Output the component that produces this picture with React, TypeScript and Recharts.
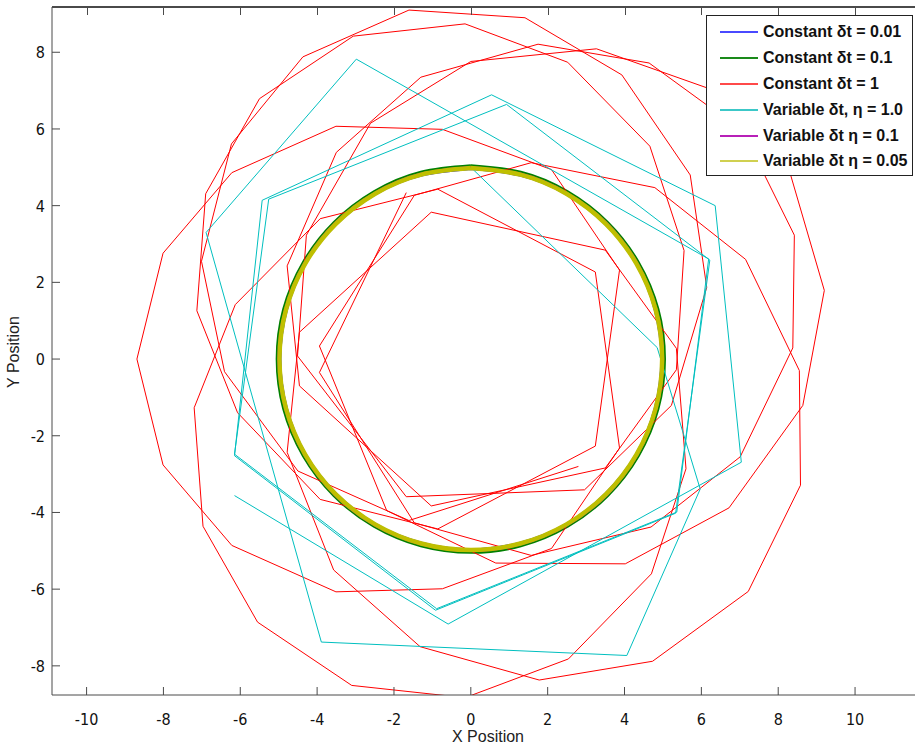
import React from "react";
import { LineChart, Line, XAxis, YAxis } from "recharts";

type Pt = [number, number];

const X_TICKS = [-10, -8, -6, -4, -2, 0, 2, 4, 6, 8, 10];
const Y_TICKS = [-8, -6, -4, -2, 0, 2, 4, 6, 8];

// constant dt = 0.01
const constDt001: Pt[] = [
  [0, 4.95], [1.28, 4.78], [2.48, 4.29], [3.5, 3.5], [4.29, 2.48], [4.78, 1.28],
  [4.95, 0], [4.78, -1.28], [4.29, -2.48], [3.5, -3.5], [2.48, -4.29], [1.28, -4.78],
  [0, -4.95], [-1.28, -4.78], [-2.48, -4.29], [-3.5, -3.5], [-4.29, -2.48], [-4.78, -1.28],
  [-4.95, 0], [-4.78, 1.28], [-4.29, 2.48], [-3.5, 3.5], [-2.48, 4.29], [-1.28, 4.78], [0, 4.95],
];

// constant dt = 0.1
const constDt01: Pt[] = [
  [0, 5.04], [1.3, 4.87], [2.52, 4.36], [3.56, 3.56], [4.36, 2.52], [4.87, 1.3],
  [5.04, 0], [4.87, -1.3], [4.36, -2.52], [3.56, -3.56], [2.52, -4.36], [1.3, -4.87],
  [0, -5.04], [-1.3, -4.87], [-2.52, -4.36], [-3.56, -3.56], [-4.36, -2.52], [-4.87, -1.3],
  [-5.04, 0], [-4.87, 1.3], [-4.36, 2.52], [-3.56, 3.56], [-2.52, 4.36], [-1.3, 4.87], [0, 5.04],
];

// constant dt = 1 (precessing orbit, read vertex by vertex)
const constDt1: Pt[] = [
  [2.8, -2.8], [-1.61, -4.21], [-4.5, -2.92], [-6.41, -0.33], [-7.01, 2.55], [-6.23, 5.61],
  [-4.37, 7.88], [-1.61, 9.1], [1.41, 8.9], [3.93, 7.41], [5.71, 4.8], [6.14, 1.87],
  [5.22, -1.21], [2.96, -3.41], [-1.68, -3.59], [-4.51, 0.08], [-4.28, 3.23], [-2.61, 6.15],
  [0, 7.76], [3.27, 8.09], [6.15, 7.07], [8.32, 4.81], [9.2, 1.79], [8.64, -1.21],
  [6.72, -3.88], [4.02, -5.34], [0.65, -5.32], [-2.19, -3.95], [-3.94, 0.34], [-1.47, 4.27],
  [1.57, 5.12], [4.79, 4.47], [7.15, 2.6], [8.55, -0.3], [8.58, -3.29], [7.22, -6.06],
  [4.73, -7.88], [1.78, -8.37], [-1.32, -7.5], [-3.57, -5.5], [-4.78, -2.43], [-4.46, 0.7],
  [-1.03, 3.83], [3.5, 2.84], [5.35, 0.28], [5.6, -2.86], [4.7, -5.6], [2.54, -7.82],
  [-0.15, -8.83], [-3.1, -8.51], [-5.55, -6.86], [-6.97, -4.36], [-7.2, -1.27], [-6.13, 1.42],
  [-3.92, 3.66], [-0.86, 4.43], [3.24, 2.27], [3.87, -2.32], [2.1, -4.94], [-0.74, -5.99],
  [-3.51, -6.07], [-6.22, -4.86], [-8.01, -2.76], [-8.69, 0], [-8.01, 2.76], [-6.22, 4.86],
  [-3.51, 6.07], [-0.74, 5.99], [2.1, 4.94], [3.87, 2.32], [3.24, -2.27], [-0.86, -4.43],
  [-3.92, -3.66], [-6.07, -1.4], [-7.13, 1.26], [-6.9, 4.31], [-5.5, 6.79], [-3.06, 8.42],
  [-0.15, 8.74], [2.52, 7.74], [4.66, 5.55], [5.55, 2.83], [5.35, -0.28], [3.5, -2.84],
  [-1.03, -3.83], [-4.46, -0.7], [-4.78, 2.43], [-3.5, 5.39], [-1.3, 7.35], [1.75, 8.21],
  [4.64, 7.72], [7.08, 5.94], [8.42, 3.23], [8.38, 0.29], [7.01, -2.55], [4.69, -4.38],
  [1.57, -5.12], [-1.47, -4.27], [-3.94, -0.35], [-1.68, 4.34],
];

// variable dt, eta = 1.0
const varEta1: Pt[] = [
  [0, 5], [4.85, 0.3], [5.97, -3.39], [4.06, -7.73], [-3.89, -7.38], [-6.89, 3.3],
  [-2.98, 7.82], [6.19, 2.61], [5.36, -3.99], [-0.89, -6.51], [-6.15, -2.48], [-5.26, 4.17],
  [0.93, 6.64], [6.22, 2.58], [5.33, -4.02], [-0.92, -6.55], [-6.15, -2.52], [-5.43, 4.14],
  [0.54, 6.89], [6.36, 4.0], [7.04, -2.69], [-0.59, -6.91], [-6.15, -3.56],
];

// variable dt, eta = 0.1
const varEta01: Pt[] = [
  [0, 5], [1.29, 4.83], [2.5, 4.33], [3.54, 3.54], [4.33, 2.5], [4.83, 1.29],
  [5, 0], [4.83, -1.29], [4.33, -2.5], [3.54, -3.54], [2.5, -4.33], [1.29, -4.83],
  [0, -5], [-1.29, -4.83], [-2.5, -4.33], [-3.54, -3.54], [-4.33, -2.5], [-4.83, -1.29],
  [-5, 0], [-4.83, 1.29], [-4.33, 2.5], [-3.54, 3.54], [-2.5, 4.33], [-1.29, 4.83], [0, 5],
];

// variable dt, eta = 0.05
const varEta005: Pt[] = [
  [0, 4.98], [1.29, 4.81], [2.49, 4.31], [3.52, 3.52], [4.31, 2.49], [4.81, 1.29],
  [4.98, 0], [4.81, -1.29], [4.31, -2.49], [3.52, -3.52], [2.49, -4.31], [1.29, -4.81],
  [0, -4.98], [-1.29, -4.81], [-2.49, -4.31], [-3.52, -3.52], [-4.31, -2.49], [-4.81, -1.29],
  [-4.98, 0], [-4.81, 1.29], [-4.31, 2.49], [-3.52, 3.52], [-2.49, 4.31], [-1.29, 4.81], [0, 4.98],
];

const rows = (pts: Pt[]) => pts.map(([x, y]) => ({ x, y }));

const SERIES = [
  { name: "Constant \u03b4t = 0.01", pts: constDt001, color: "#0000ff", width: 1.5, curve: "natural", legend: "#4a4aff" },
  { name: "Constant \u03b4t = 0.1", pts: constDt01, color: "#008000", width: 3, curve: "natural", legend: "#1a8a1a" },
  { name: "Constant \u03b4t = 1", pts: constDt1, color: "#ff0000", width: 1, curve: "linear", legend: "#ff4a4a" },
  { name: "Variable \u03b4t, \u03b7 = 1.0", pts: varEta1, color: "#00bfbf", width: 1, curve: "linear", legend: "#3cc8c8" },
  { name: "Variable \u03b4t \u03b7 = 0.1", pts: varEta01, color: "#bf00bf", width: 2.5, curve: "natural", legend: "#b820b8" },
  { name: "Variable \u03b4t \u03b7 = 0.05", pts: varEta005, color: "#bfbf00", width: 4.5, curve: "natural", legend: "#d0d050" },
];

const W = 915;
const H = 746;
const PLOT_LEFT = 52;
const PLOT_TOP = 7;
const X_DOMAIN: [number, number] = [-10.9, 11.56];
const Y_DOMAIN: [number, number] = [-8.76, 9.18];
const AXIS = "#4a4a4a";
const TICK_FONT = "'Liberation Sans Narrow', 'DejaVu Sans Condensed', 'Liberation Sans', sans-serif";

// top frame tick position (same linear mapping as the bottom axis)
const topTickLeft = (t: number) =>
  PLOT_LEFT + ((t - X_DOMAIN[0]) / (X_DOMAIN[1] - X_DOMAIN[0])) * (W - PLOT_LEFT);

const BottomTick = (p: any) => (
  <g>
    <line x1={p.x} x2={p.x} y1={p.y} y2={p.y - 8} stroke={AXIS} />
    <text x={p.x} y={p.y + 30} textAnchor="middle" fontSize={16} fontFamily={TICK_FONT} fill="#111">
      {p.payload.value}
    </text>
  </g>
);

const LeftTick = (p: any) => (
  <g>
    <line x1={p.x} x2={p.x + 8} y1={p.y} y2={p.y} stroke={AXIS} />
    <text x={p.x - 7} y={p.y + 6} textAnchor="end" fontSize={16} fontFamily={TICK_FONT} fill="#111">
      {p.payload.value}
    </text>
  </g>
);

export default function App() {
  return (
    <div style={{ position: "absolute", left: 0, top: 0, width: W, height: H, background: "#fff", overflow: "hidden" }}>
      <LineChart width={W} height={H} margin={{ top: PLOT_TOP, right: 0, bottom: 0, left: 0 }}>
        <XAxis
          type="number"
          dataKey="x"
          domain={X_DOMAIN}
          allowDataOverflow
          ticks={X_TICKS}
          interval={0}
          height={51}
          stroke={AXIS}
          tickLine={false}
          tickSize={0}
          tickMargin={0}
          tick={<BottomTick />}
        />
        <YAxis
          type="number"
          domain={Y_DOMAIN}
          allowDataOverflow
          ticks={Y_TICKS}
          interval={0}
          width={PLOT_LEFT}
          stroke={AXIS}
          tickLine={false}
          tickSize={0}
          tickMargin={0}
          tick={<LeftTick />}
        />
        {SERIES.map((s) => (
          <Line
            key={s.name}
            data={rows(s.pts)}
            dataKey="y"
            name={s.name}
            type={s.curve as any}
            stroke={s.color}
            strokeWidth={s.width}
            dot={false}
            activeDot={false}
            isAnimationActive={false}
          />
        ))}
      </LineChart>

      {/* top frame line with inward ticks */}
      <div
        style={{
          position: "absolute",
          zIndex: 5,
          left: PLOT_LEFT,
          top: PLOT_TOP - 1,
          width: W - PLOT_LEFT,
          height: 0,
          borderTop: `2px solid ${AXIS}`,
        }}
      />
      {X_TICKS.map((t) => (
        <div
          key={t}
          style={{
            position: "absolute",
            zIndex: 5,
            left: Math.round(topTickLeft(t)),
            top: PLOT_TOP,
            width: 0,
            height: 8,
            borderLeft: `1px solid ${AXIS}`,
          }}
        />
      ))}

      <div
        style={{
          position: "absolute",
          left: 436,
          top: 729,
          width: 104,
          textAlign: "center",
          fontFamily: "'Liberation Sans', Arial, sans-serif",
          fontSize: 16,
          color: "#222",
          lineHeight: "15px",
        }}
      >
        X Position
      </div>
      <div
        style={{
          position: "absolute",
          left: 14,
          top: 352,
          transform: "translate(-50%, -50%) rotate(-90deg)",
          fontFamily: "'Liberation Sans', Arial, sans-serif",
          fontSize: 16,
          color: "#222",
          whiteSpace: "nowrap",
          lineHeight: "16px",
        }}
      >
        Y Position
      </div>

      <div
        style={{
          position: "absolute",
          zIndex: 6,
          left: 706,
          top: 15,
          width: 207,
          height: 161,
          border: "1px solid #222",
          background: "#fff",
          boxSizing: "border-box",
          paddingTop: 3,
        }}
      >
        {SERIES.map((s) => (
          <div key={s.name} style={{ display: "flex", alignItems: "center", height: 25.9 }}>
            <div style={{ marginLeft: 13, width: 38, height: 0, borderTop: `2px solid ${s.legend}` }} />
            <span
              style={{
                marginLeft: 5,
                fontFamily: "'Liberation Sans', Arial, sans-serif",
                fontWeight: 700,
                fontSize: 16,
                color: "#111",
                whiteSpace: "nowrap",
              }}
            >
              {s.name}
            </span>
          </div>
        ))}
      </div>
    </div>
  );
}
